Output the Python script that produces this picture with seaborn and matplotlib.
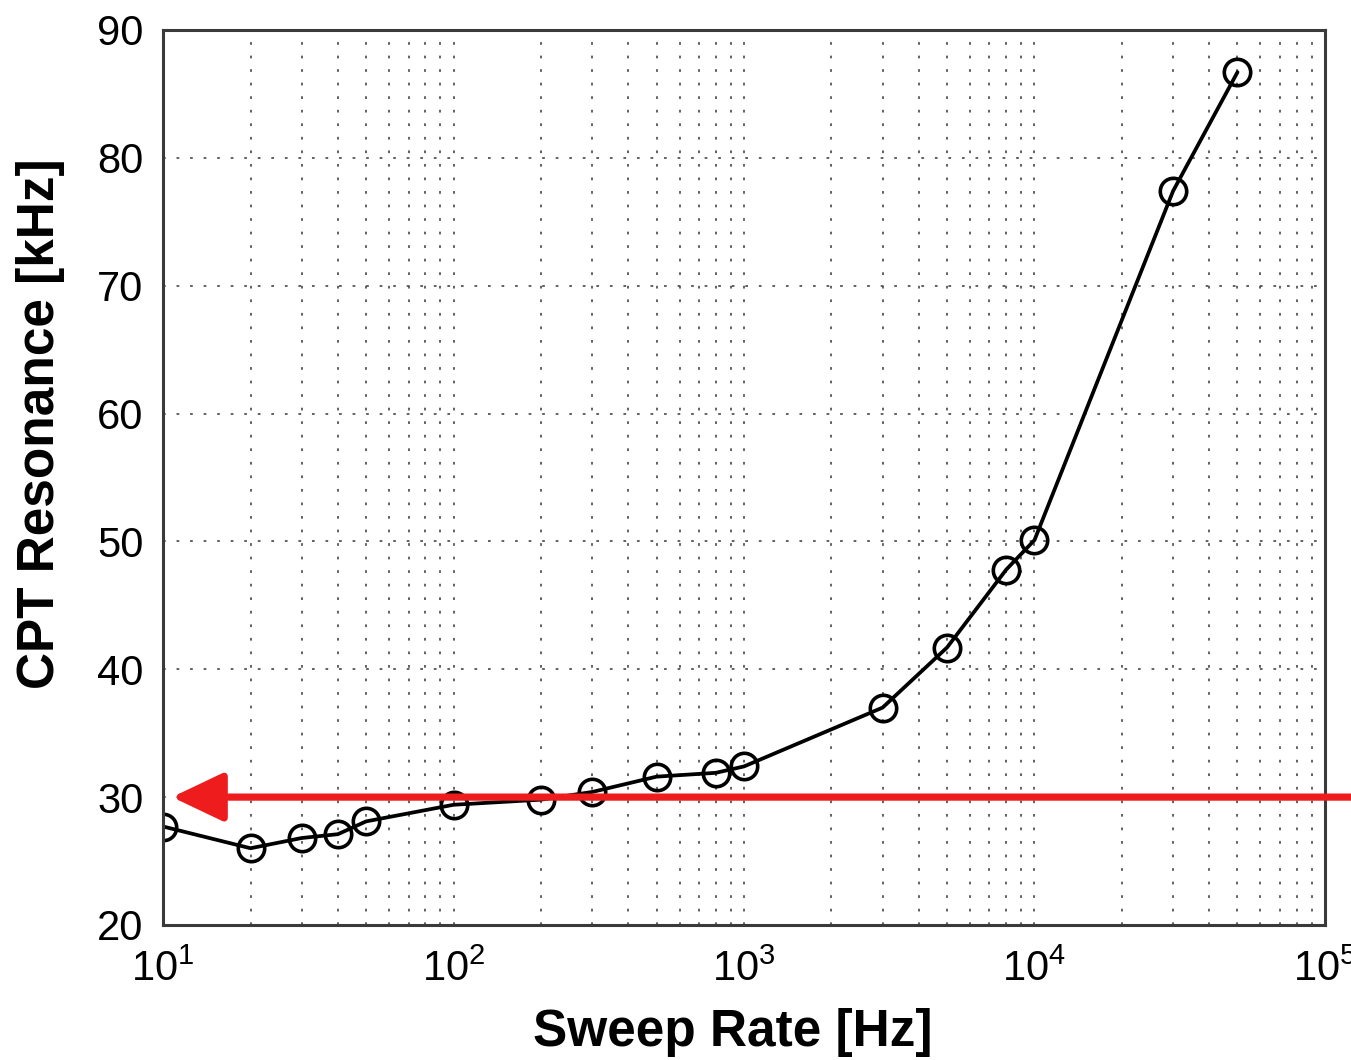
import numpy as np
import pandas as pd
import matplotlib
matplotlib.use("Agg")
import matplotlib.pyplot as plt
import seaborn as sns
from matplotlib.ticker import LogLocator, NullFormatter

sweep_rate_hz = [10, 20, 30, 40, 50, 100, 200, 300, 500, 800, 1000, 3000, 5000, 8000, 10000, 30000, 50000]
cpt_resonance_khz = [27.7, 26.0, 26.8, 27.1, 28.1, 29.4, 29.8, 30.4, 31.6, 31.9, 32.4, 37.0, 41.7, 47.8, 50.1, 77.4, 86.7]
y_ticks = [20, 30, 40, 50, 60, 70, 80, 90]
reference_level = 30

sns.set_style("white")
plt.rcParams['font.family'] = ['Liberation Sans', 'DejaVu Sans']
plt.rcParams['mathtext.fontset'] = 'custom'
plt.rcParams['mathtext.rm'] = 'Liberation Sans'
plt.rcParams['mathtext.it'] = 'Liberation Sans'
plt.rcParams['mathtext.bf'] = 'Liberation Sans:bold'

df = pd.DataFrame({"rate": sweep_rate_hz, "res": cpt_resonance_khz})

fig = plt.figure(figsize=(13.51, 10.60), dpi=100)
ax = fig.add_axes([0.1207, 0.1274, 0.86, 0.8443])

sns.lineplot(data=df, x="rate", y="res", ax=ax, color="black", linewidth=2.7,
             marker="o", markersize=19, markerfacecolor="none",
             markeredgecolor="black", markeredgewidth=2.6)

ax.set_xscale("log")
ax.set_xlim(10, 1e5)
ax.set_ylim(20, 90)
ax.set_yticks(y_ticks)
ax.xaxis.set_major_locator(LogLocator(base=10, numticks=10))
ax.xaxis.set_minor_locator(LogLocator(base=10, subs=np.arange(2, 10), numticks=20))
ax.xaxis.set_minor_formatter(NullFormatter())

for s in ax.spines.values():
    s.set_visible(True)
    s.set_color("#3a3a3a")
    s.set_linewidth(2.2)

ax.tick_params(axis="both", which="both", direction="in", top=False, right=False,
               color="#3a3a3a", width=2.0)
ax.tick_params(axis="both", which="major", length=10, labelsize=30, labelcolor="black")
ax.tick_params(axis="x", which="major", pad=18)
ax.tick_params(axis="y", which="major", pad=14)
ax.tick_params(axis="x", which="minor", length=9)

ax.grid(True, which="major", axis="both", linestyle=(0, (1.5, 6)), color="#555555", linewidth=1.3)
ax.grid(True, which="minor", axis="x", linestyle=(0, (1.5, 6)), color="#555555", linewidth=1.3)

ax.set_xlabel("Sweep Rate [Hz]", fontsize=37, fontweight="bold", color="black")
ax.set_ylabel("CPT Resonance [kHz]", fontsize=37, fontweight="bold", color="black")
ax.yaxis.set_label_coords(-0.084, 0.56)
ax.xaxis.set_label_coords(0.49, -0.093)

tip_x = 10 ** (1 + 9 / 290.5)
ax.annotate("", xy=(tip_x, reference_level), xycoords="data",
            xytext=(1.0, reference_level), textcoords=("figure fraction", "data"),
            arrowprops=dict(arrowstyle="-|>,head_length=2.1,head_width=1.0",
                            mutation_scale=15, color="#ee1c1c", lw=5.2,
                            shrinkA=0, shrinkB=0),
            annotation_clip=False)

fig.savefig("out.png", dpi=100)
